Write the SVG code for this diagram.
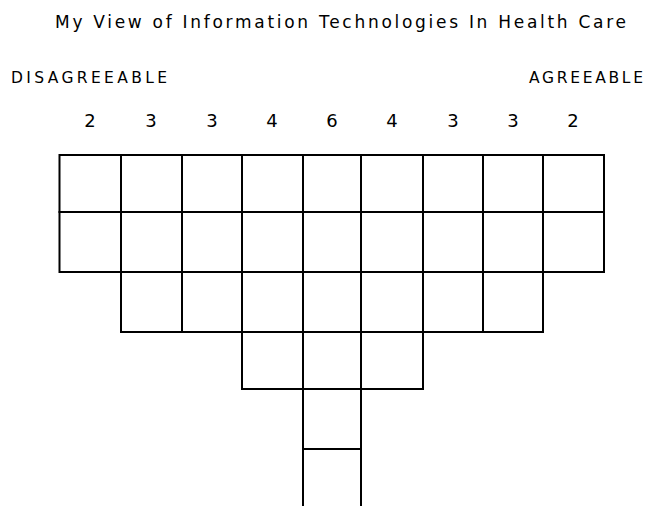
<svg xmlns="http://www.w3.org/2000/svg" width="651" height="506" viewBox="0 0 651 506">
<style>
.t{font-family:"DejaVu Sans","Liberation Sans",sans-serif;fill:#000;}
.c{fill:#fff;stroke:#000;stroke-width:2;}
</style>
<rect width="651" height="506" fill="#fff"/>
<g id="labels">
<text class="t" x="55" y="28" font-size="17" textLength="571" lengthAdjust="spacing">My View of Information Technologies In Health Care</text>
<text class="t" x="11" y="82.5" font-size="15.5" textLength="156" lengthAdjust="spacing">DISAGREEABLE</text>
<text class="t" x="529" y="82.5" font-size="15.5" textLength="114" lengthAdjust="spacing">AGREEABLE</text>
</g>
<g id="counts" class="t" font-size="18" text-anchor="middle">
<text x="90" y="126.5">2</text>
<text x="151" y="126.5">3</text>
<text x="212" y="126.5">3</text>
<text x="272" y="126.5">4</text>
<text x="332" y="126.5">6</text>
<text x="392" y="126.5">4</text>
<text x="453" y="126.5">3</text>
<text x="513" y="126.5">3</text>
<text x="573" y="126.5">2</text>
</g>
<g id="col1"><rect class="c" x="59.5" y="155" width="61.5" height="57"/><rect class="c" x="59.5" y="212" width="61.5" height="60"/></g>
<g id="col2"><rect class="c" x="121" y="155" width="61" height="57"/><rect class="c" x="121" y="212" width="61" height="60"/><rect class="c" x="121" y="272" width="61" height="60"/></g>
<g id="col3"><rect class="c" x="182" y="155" width="60" height="57"/><rect class="c" x="182" y="212" width="60" height="60"/><rect class="c" x="182" y="272" width="60" height="60"/></g>
<g id="col4"><rect class="c" x="242" y="155" width="61" height="57"/><rect class="c" x="242" y="212" width="61" height="60"/><rect class="c" x="242" y="272" width="61" height="60"/><rect class="c" x="242" y="332" width="61" height="57"/></g>
<g id="col5"><rect class="c" x="303" y="155" width="58" height="57"/><rect class="c" x="303" y="212" width="58" height="60"/><rect class="c" x="303" y="272" width="58" height="60"/><rect class="c" x="303" y="332" width="58" height="57"/><rect class="c" x="303" y="389" width="58" height="60"/><path class="c" fill="none" d="M303 506V449H361V506"/></g>
<g id="col6"><rect class="c" x="361" y="155" width="62" height="57"/><rect class="c" x="361" y="212" width="62" height="60"/><rect class="c" x="361" y="272" width="62" height="60"/><rect class="c" x="361" y="332" width="62" height="57"/></g>
<g id="col7"><rect class="c" x="423" y="155" width="60" height="57"/><rect class="c" x="423" y="212" width="60" height="60"/><rect class="c" x="423" y="272" width="60" height="60"/></g>
<g id="col8"><rect class="c" x="483" y="155" width="60" height="57"/><rect class="c" x="483" y="212" width="60" height="60"/><rect class="c" x="483" y="272" width="60" height="60"/></g>
<g id="col9"><rect class="c" x="543" y="155" width="61" height="57"/><rect class="c" x="543" y="212" width="61" height="60"/></g>
</svg>
